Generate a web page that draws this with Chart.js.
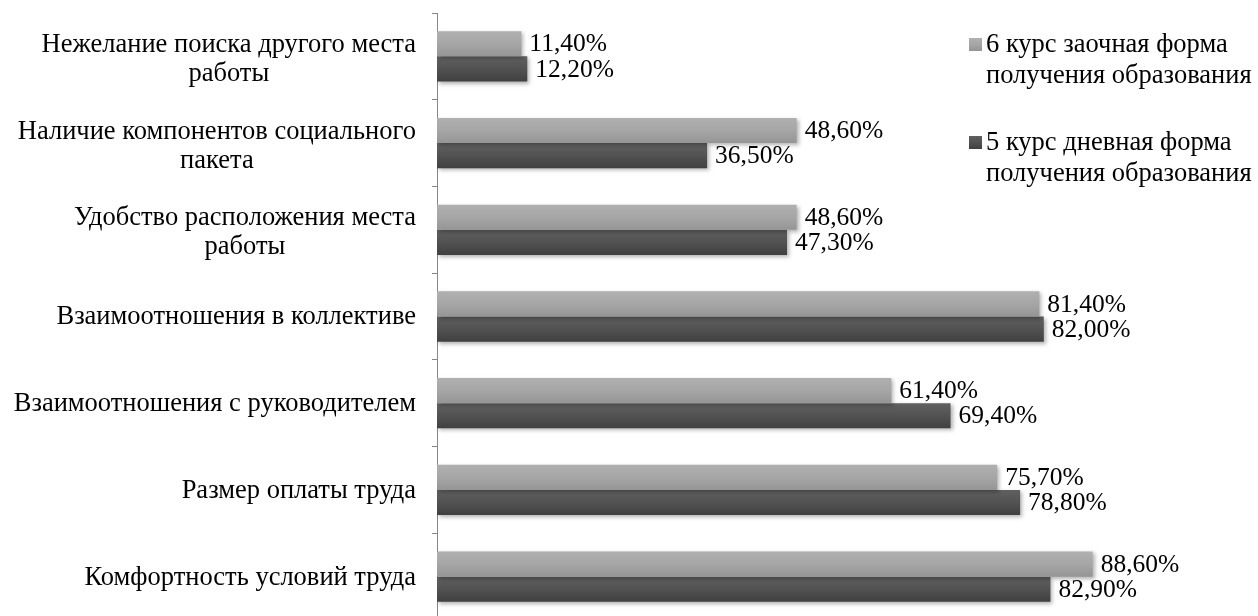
<!DOCTYPE html>
<html><head><meta charset="utf-8">
<script src="https://cdn.jsdelivr.net/npm/chart.js@4.4.1/dist/chart.umd.min.js"></script>
<style>html,body{margin:0;padding:0;background:#fff;overflow:hidden}#wrap{width:1258px;height:622px;position:relative}</style>
</head><body><div id="wrap"><canvas id="c"></canvas></div>
<script>
const categories = [
  ['Нежелание поиска другого места', 'работы'],
  ['Наличие компонентов социального', 'пакета'],
  ['Удобство расположения места', 'работы'],
  ['Взаимоотношения в коллективе'],
  ['Взаимоотношения с руководителем'],
  ['Размер оплаты труда'],
  ['Комфортность условий труда']
];
const seriesNames = [
  ['6 курс заочная форма', 'получения образования'],
  ['5 курс дневная форма', 'получения образования']
];
const zaochnaya6 = [11.4, 48.6, 48.6, 81.4, 61.4, 75.7, 88.6];
const dnevnaya5 = [12.2, 36.5, 47.3, 82.0, 69.4, 78.8, 82.9];
const axisMin = 0;
const axisMax = 100;

const FONT = '26.5px "Liberation Serif", "Times New Roman", serif';
const VFONT = '25.5px "Liberation Serif", "Times New Roman", serif';
const CAT_PCT = 0.58;
const stopsLight = [['0', '#b0b0b0'], ['0.5', '#a6a6a6'], ['1', '#959595']];
const stopsDark = [['0', '#606060'], ['0.5', '#525252'], ['1', '#404040']];

function makeGrad(cctx, top, h, stops) {
  const g = cctx.createLinearGradient(0, top, 0, top + h);
  stops.forEach(s => g.addColorStop(+s[0], s[1]));
  return g;
}
function barBg(which, stops) {
  return (ctx) => {
    const chart = ctx.chart;
    const y = chart.scales && chart.scales.y;
    if (!y || ctx.type !== 'data' || !isFinite(y.top)) return stops[1][1];
    const c = y.getPixelForValue(ctx.dataIndex);
    const band = (y.bottom - y.top) / categories.length;
    const h = band * CAT_PCT / 2;
    const top = which === 0 ? c - h : c;
    return makeGrad(chart.ctx, top, h, stops);
  };
}
function fmt(v) { return v.toFixed(2).replace('.', ',') + '%'; }

const decor = {
  id: 'decor',
  beforeDatasetsDraw(chart) {
    const ctx = chart.ctx;
    ctx.save();
    ctx.shadowColor = 'rgba(0,0,0,0.30)';
    ctx.shadowBlur = 4;
    ctx.shadowOffsetX = 2;
    ctx.shadowOffsetY = 2;
  },
  afterDatasetsDraw(chart) {
    const ctx = chart.ctx;
    ctx.restore();
    ctx.save();
    ctx.font = VFONT;
    ctx.fillStyle = '#000';
    ctx.textBaseline = 'middle';
    ctx.textAlign = 'left';
    chart.data.datasets.forEach((ds, di) => {
      const meta = chart.getDatasetMeta(di);
      meta.data.forEach((el, i) => {
        ctx.fillText(fmt(ds.data[i]), el.x + 8, el.y + 1);
      });
    });
    ctx.restore();
  },
  afterDraw(chart) {
    const ctx = chart.ctx;
    const y = chart.scales.y;
    ctx.save();
    ctx.font = FONT;
    ctx.fillStyle = '#000';
    ctx.textBaseline = 'middle';
    ctx.textAlign = 'center';
    const lh = 29;
    const rightEdge = 416;
    categories.forEach((lines, i) => {
      const yc = y.getPixelForValue(i) + (lines.length > 1 ? 3 : 1);
      const w = Math.max(...lines.map(l => ctx.measureText(l).width));
      const cx = rightEdge - w / 2;
      lines.forEach((l, k) => {
        ctx.fillText(l, cx, yc - (lines.length - 1) * lh / 2 + k * lh);
      });
    });
    // legend
    const entries = [[stopsLight, 45], [stopsDark, 143]];
    ctx.textAlign = 'left';
    seriesNames.forEach((lines, si) => {
      const [stops, ly] = entries[si];
      ctx.fillStyle = makeGrad(ctx, ly - 7, 13, stops);
      ctx.fillRect(969, ly - 7, 13, 13);
      ctx.fillStyle = '#000';
      lines.forEach((l, k) => ctx.fillText(l, 986, ly + k * 31));
    });
    ctx.restore();
  }
};

new Chart(document.getElementById('c'), {
  type: 'bar',
  data: {
    labels: categories,
    datasets: [
      { label: seriesNames[0].join(' '), data: zaochnaya6, backgroundColor: barBg(0, stopsLight),
        barPercentage: 1, categoryPercentage: CAT_PCT, borderWidth: 0 },
      { label: seriesNames[1].join(' '), data: dnevnaya5, backgroundColor: barBg(1, stopsDark),
        barPercentage: 1, categoryPercentage: CAT_PCT, borderWidth: 0 }
    ]
  },
  options: {
    indexAxis: 'y',
    responsive: true,
    maintainAspectRatio: false,
    animation: false,
    layout: { padding: { top: 13, right: 81, bottom: 2, left: 0 } },
    plugins: { legend: { display: false }, tooltip: { enabled: false } },
    scales: {
      x: { display: false, min: axisMin, max: axisMax },
      y: {
        afterFit(scale) { scale.width = 437; },
        ticks: { display: false },
        grid: { display: true, drawOnChartArea: false, drawTicks: true, tickLength: 5, color: '#868686', offset: true },
        border: { display: true, color: '#868686', width: 1 }
      }
    }
  },
  plugins: [decor]
});
</script>
</body></html>
